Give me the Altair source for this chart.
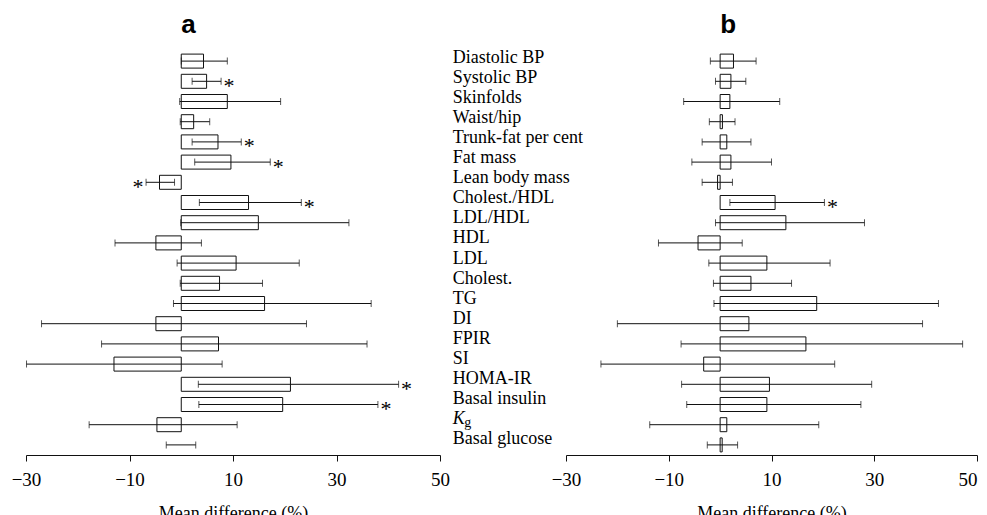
import altair as alt
import pandas as pd

categories = ["Diastolic BP", "Systolic BP", "Skinfolds", "Waist/hip",
              "Trunk-fat per cent", "Fat mass", "Lean body mass", "Cholest./HDL",
              "LDL/HDL", "HDL", "LDL", "Cholest.", "TG", "DI", "FPIR", "SI",
              "HOMA-IR", "Basal insulin", "Kg", "Basal glucose"]

# Panel a
a_mean = [4.3, 4.9, 8.9, 2.4, 7.1, 9.6, -4.2, 13.0, 14.9, -4.9,
          10.6, 7.4, 16.1, -4.9, 7.2, -13.0, 21.1, 19.6, -4.7, None]
a_low = [0.0, 2.1, -0.3, -0.2, 2.1, 2.6, -6.8, 3.5, -0.1, -12.8,
         -0.8, -0.2, -1.5, -27.0, -15.4, -29.9, 3.3, 3.4, -17.8, -2.9]
a_high = [8.9, 7.7, 19.2, 5.5, 11.6, 17.2, -1.3, 23.2, 32.4, 3.9,
          22.8, 15.7, 36.7, 24.2, 35.9, 7.9, 42.0, 38.0, 10.8, 2.8]
a_sig = ["", "right", "", "", "right", "right", "left", "right", "", "",
         "", "", "", "", "", "", "right", "right", "", ""]

# Panel b
b_mean = [2.6, 2.1, 1.9, 0.45, 1.3, 2.1, -0.5, 10.7, 12.8, -4.3,
          9.1, 6.0, 18.8, 5.6, 16.7, -3.2, 9.6, 9.1, 1.3, 0.4]
b_low = [-1.9, -0.9, -7.1, -2.1, -3.5, -5.5, -3.5, 1.9, -0.9, -12.0,
         -2.2, -1.3, -1.2, -20.0, -7.6, -23.2, -7.5, -6.5, -13.7, -2.5]
b_high = [7.0, 5.0, 11.6, 2.9, 6.0, 10.0, 2.4, 20.3, 28.1, 4.3,
          21.4, 13.9, 42.5, 39.4, 47.2, 22.3, 29.5, 27.4, 19.2, 3.4]
b_sig = ["", "", "", "", "", "", "", "right", "", "",
         "", "", "", "", "", "", "", "", "", ""]

tick_values = [-30, -10, 10, 30, 50]
x_title = "Mean difference (%)"

SERIF = "Liberation Serif"
H = 404


def panel(mean, low, high, sig, letter, width, flush_last):
    df = pd.DataFrame({"cat": categories, "mean": mean, "low": low,
                       "high": high, "sig": sig})
    y = alt.Y("cat:N", sort=categories,
              scale=alt.Scale(type="point", padding=0.5), axis=None)
    xscale = alt.Scale(domain=[-30, 50], nice=False, zero=False)
    axis_kw = dict(values=tick_values, title=x_title, grid=False, format="d",
                   labelFlush=False)
    if flush_last:
        axis_kw["labelAlign"] = alt.condition("datum.value == 50",
                                              alt.value("right"),
                                              alt.value("center"))
    xaxis = alt.Axis(**axis_kw)

    def X(field):
        return alt.X(field, scale=xscale, axis=xaxis, title=x_title)

    base = alt.Chart(df)
    bars = base.mark_bar(height=14, fill="white", stroke="#111",
                         strokeWidth=1).encode(x=X("mean:Q"), x2=alt.datum(0), y=y)
    rules = base.mark_rule(color="#111", strokeWidth=1).encode(
        x=X("low:Q"), x2="high:Q", y=y)
    caps = base.transform_fold(["low", "high"]).mark_tick(
        orient="vertical", size=7, thickness=1, color="#111").encode(
        x=X("value:Q"), y=y)
    star_r = base.transform_filter("datum.sig == 'right'").mark_text(
        text="*", dx=8, dy=11.5, fontSize=22, font=SERIF, color="black",
        align="center", baseline="alphabetic").encode(x=X("high:Q"), y=y)
    star_l = base.transform_filter("datum.sig == 'left'").mark_text(
        text="*", dx=-8, dy=11.5, fontSize=22, font=SERIF, color="black",
        align="center", baseline="alphabetic").encode(x=X("low:Q"), y=y)
    title = alt.Chart(pd.DataFrame({"t": [letter]})).mark_text(
        align="left", baseline="alphabetic", fontSize=26, fontWeight="bold",
        font="Liberation Sans", color="black").encode(
        x=alt.datum(0), y=alt.value(-18.3), text="t:N")
    return alt.layer(bars, rules, caps, star_r, star_l, title).properties(
        width=width, height=H)


label_df = pd.DataFrame({"cat": categories,
                         "label": [c if c != "Kg" else "" for c in categories]})
ly = alt.Y("cat:N", sort=categories,
           scale=alt.Scale(type="point", padding=0.59), axis=None)
lab_base = alt.Chart(label_df)
labels = lab_base.mark_text(align="left", baseline="alphabetic", font=SERIF,
                            fontSize=18, color="black", dy=0.5).encode(
    x=alt.value(12.7), y=ly, text="label:N")
k_lab = lab_base.transform_filter("datum.cat == 'Kg'").mark_text(
    text="K", align="left", baseline="alphabetic", font=SERIF, fontSize=18,
    fontStyle="italic", color="black", dy=0.5).encode(x=alt.value(12.7), y=ly)
g_lab = lab_base.transform_filter("datum.cat == 'Kg'").mark_text(
    text="g", align="left", baseline="alphabetic", font=SERIF, fontSize=14,
    color="black", dy=3.5).encode(x=alt.value(24.2), y=ly)
middle = alt.layer(labels, k_lab, g_lab).properties(width=126, height=H)

pa = panel(a_mean, a_low, a_high, a_sig, "a", 414, False)
pb = panel(b_mean, b_low, b_high, b_sig, "b", 411, True)

chart = alt.hconcat(pa, middle, pb, spacing=0, bounds="flush").properties(
    padding={"left": 3, "top": 3, "right": 0, "bottom": 0}
).configure_view(
    stroke=None
).configure_axis(
    domainColor="#111", tickColor="#111", labelColor="black",
    titleColor="black", labelFont=SERIF, titleFont=SERIF,
    labelFontSize=19, titleFontSize=18, titleFontWeight="normal",
    tickSize=6, labelPadding=9, titlePadding=15, domainWidth=1, tickWidth=1
)

chart.save("out.html", embed_options={"renderer": "svg", "actions": False})
